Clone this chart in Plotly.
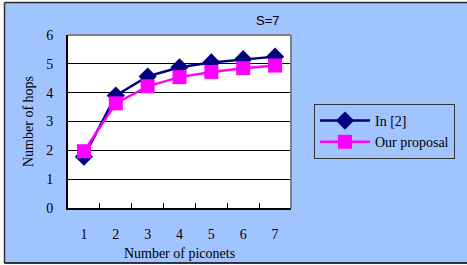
import plotly.graph_objects as go

categories = ["1", "2", "3", "4", "5", "6", "7"]
in2_values = [1.78, 3.9, 4.56, 4.88, 5.05, 5.16, 5.25]
ours_values = [1.97, 3.63, 4.22, 4.54, 4.72, 4.85, 4.94]
series_names = ["In [2]", "Our proposal"]
y_ticks = [0, 1, 2, 3, 4, 5, 6]

BG = "#A0C4FF"
SERIF = "Liberation Serif, Times New Roman, serif"

W, H = 467, 265
L, R, T, B = 68, 291, 35, 208

def px(x):
    return (x - L) / (R - L)

def py(y):
    return (B - y) / (B - T)

fig = go.Figure()
fig.add_trace(go.Scatter(
    x=categories, y=in2_values, name=series_names[0], mode="lines+markers",
    line=dict(color="#000080", width=2.5),
    marker=dict(symbol="diamond", size=14, color="#000080"),
    legendgroup="a",
))
fig.add_trace(go.Scatter(
    x=categories, y=ours_values, name=series_names[1], mode="lines+markers",
    line=dict(color="#FF00FF", width=2.5),
    marker=dict(symbol="square", size=14, color="#FF00FF"),
    legendgroup="b",
))

shapes = [
    dict(type="rect", xref="paper", yref="paper", x0=px(0), x1=px(4), y0=py(265), y1=py(0),
         fillcolor="white", line=dict(width=0), layer="below"),
    dict(type="rect", xref="paper", yref="paper", x0=px(0), x1=px(467), y0=py(2), y1=py(0),
         fillcolor="white", line=dict(width=0), layer="below"),
    dict(type="rect", xref="paper", yref="paper", x0=px(0), x1=px(467), y0=py(265), y1=py(263.5),
         fillcolor="white", line=dict(width=0), layer="below"),
    dict(type="line", xref="paper", yref="paper", x0=px(4.5), x1=px(4.5), y0=py(2.5), y1=py(263),
         line=dict(color="#303030", width=1.5)),
    dict(type="line", xref="paper", yref="paper", x0=px(4.5), x1=px(467), y0=py(2.5), y1=py(2.5),
         line=dict(color="#303030", width=1.5)),
    dict(type="line", xref="paper", yref="paper", x0=px(4.5), x1=px(467), y0=py(263), y1=py(263),
         line=dict(color="#000000", width=1.5)),
    dict(type="line", xref="paper", yref="paper", x0=0, x1=1, y0=1, y1=1,
         line=dict(color="#808080", width=2)),
    dict(type="line", xref="paper", yref="paper", x0=1, x1=1, y0=0, y1=1,
         line=dict(color="#808080", width=2)),
]

fig.update_layout(
    width=W, height=H,
    margin=dict(l=L, r=W - R, t=T, b=H - B, pad=0, autoexpand=False),
    paper_bgcolor=BG,
    plot_bgcolor="white",
    font=dict(family=SERIF, size=14, color="#000000"),
    showlegend=True,
    legend=dict(
        x=px(314), y=py(104), xanchor="left", yanchor="top",
        bgcolor="rgba(0,0,0,0)", bordercolor="#333333", borderwidth=1,
        font=dict(family=SERIF, size=14, color="#000000"),
        itemwidth=50, tracegroupgap=0, traceorder="grouped",
    ),
    shapes=shapes,
    annotations=[dict(text="S=7", xref="paper", yref="paper", x=px(268), y=py(20),
                      showarrow=False, xanchor="center", yanchor="middle",
                      font=dict(family="Liberation Sans, Arial, sans-serif", size=13, color="#000000"))],
)

fig.update_xaxes(
    type="category", range=[-0.5, 6.5], tickson="boundaries",
    ticks="inside", ticklen=5, tickcolor="#000000", tickwidth=1,
    showline=True, linecolor="#000000", linewidth=2,
    showgrid=False, zeroline=False, ticklabelstandoff=12, automargin=False,
    title=dict(text="Number of piconets", standoff=7, font=dict(family=SERIF, size=14)),
    tickfont=dict(family=SERIF, size=14),
    fixedrange=True,
)
fig.update_yaxes(
    range=[0, 6], tickvals=y_ticks, ticks="inside", ticklen=4, tickcolor="#000000",
    showline=True, linecolor="#000000", linewidth=2,
    showgrid=True, gridcolor="#000000", gridwidth=1, zeroline=False,
    ticklabelstandoff=10, automargin=False,
    title=dict(text="Number of hops", standoff=9, font=dict(family=SERIF, size=14)),
    tickfont=dict(family=SERIF, size=14),
    fixedrange=True,
)

fig.write_html("out.html", config=dict(displayModeBar=False),
               post_script="document.body.style.margin='0';document.body.style.overflow='hidden';")
